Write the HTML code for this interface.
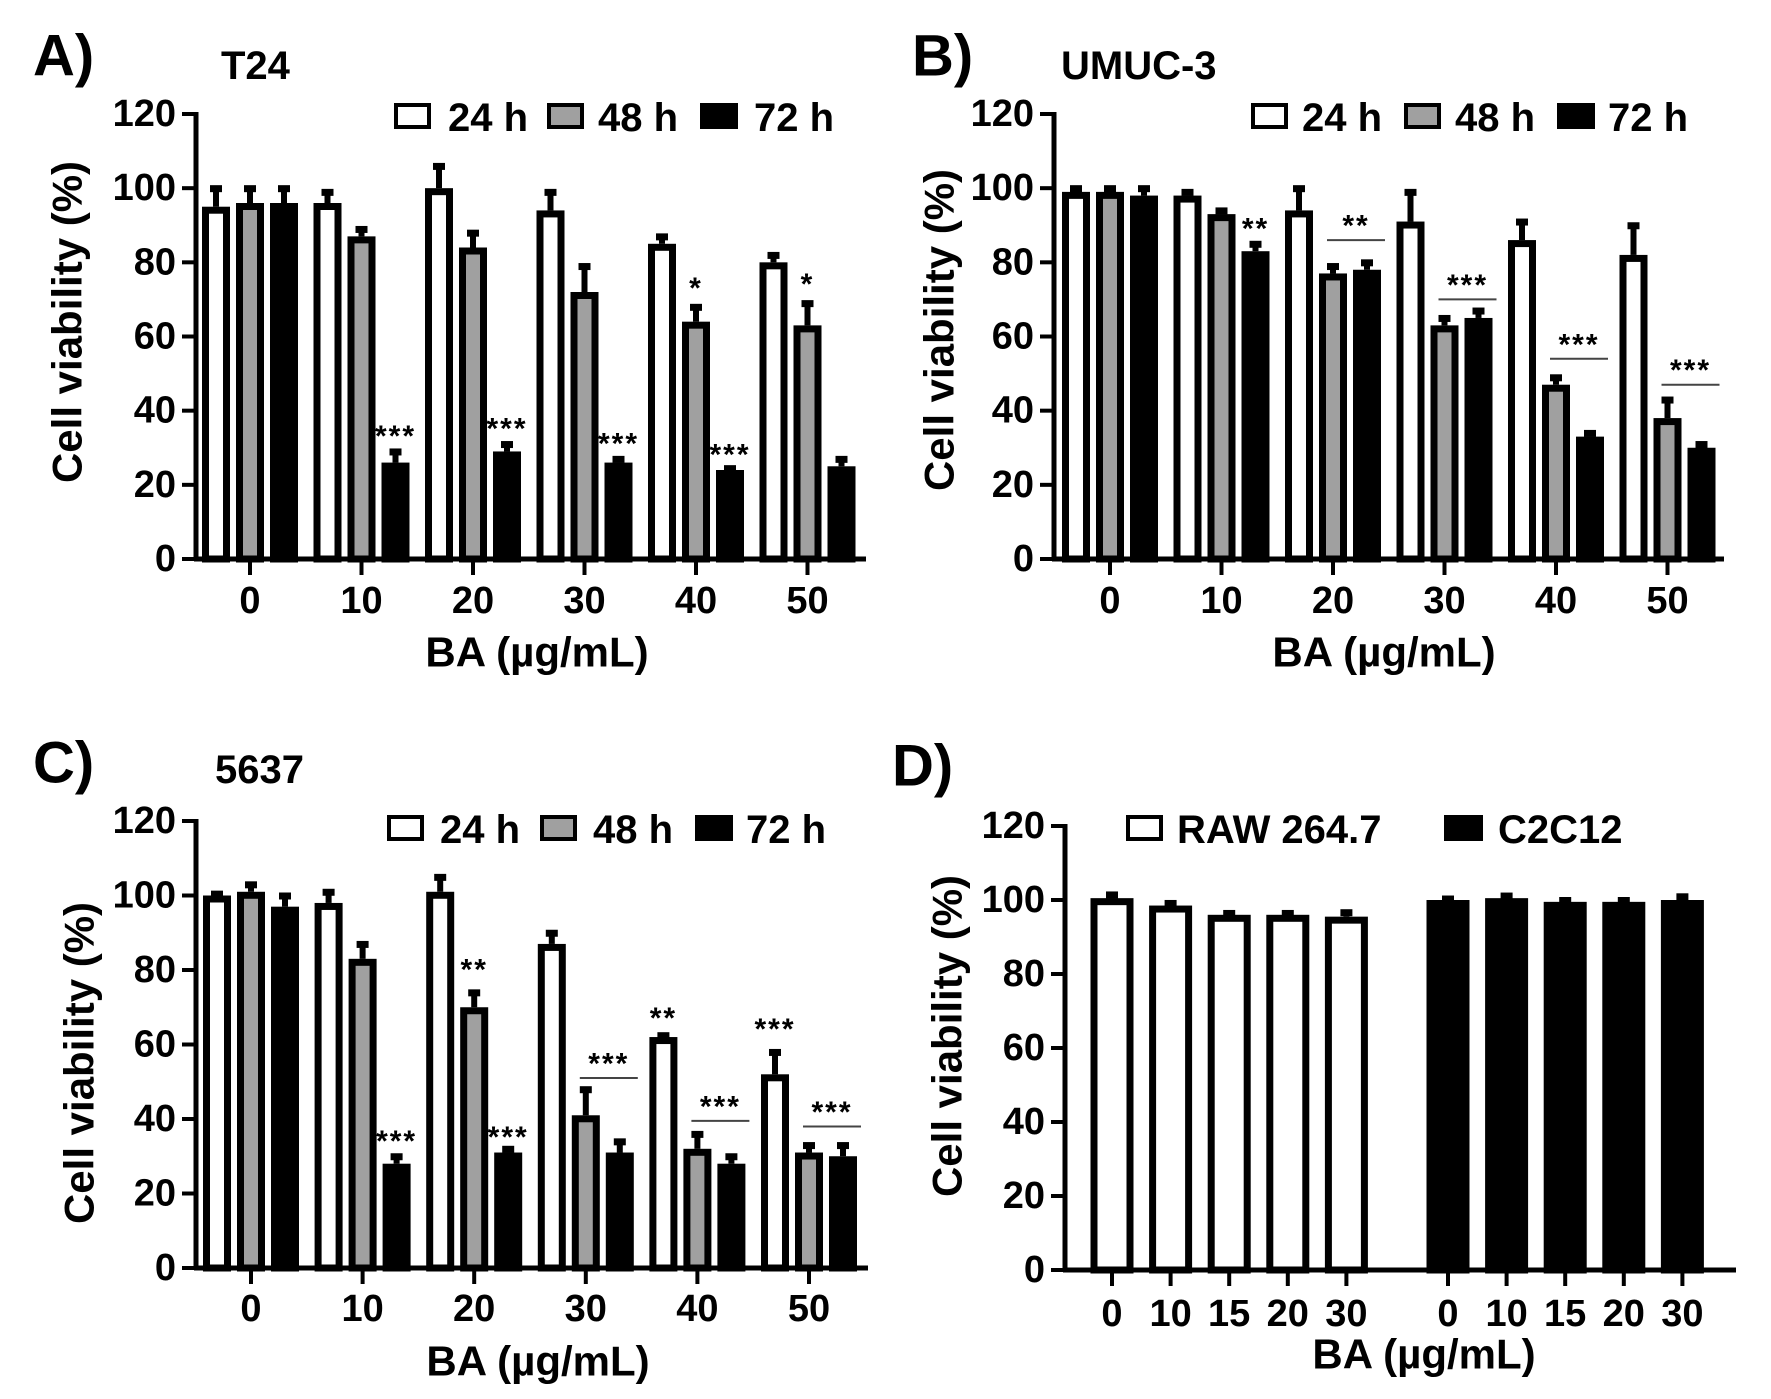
<!DOCTYPE html>
<html><head><meta charset="utf-8">
<style>
html,body{margin:0;padding:0;background:#fff;}
svg{display:block;font-family:"Liberation Sans",Arial,sans-serif;font-weight:bold;}
</style></head>
<body>
<svg id="fig" width="1771" height="1399" viewBox="0 0 1771 1399" xmlns="http://www.w3.org/2000/svg"></svg>
<script>
// ---- data ----
const doseLabels = ["0","10","20","30","40","50"];
const yTicks = [0,20,40,60,80,100,120];
// Panel A: T24
const a24 = [95,96,100,94,85,80];
const a24e = [5,3,6,5,2,2];
const a48 = [96,87,84,72,64,63];
const a48e = [4,2,4,7,4,6];
const a72 = [96,26,29,26,24,25];
const a72e = [4,3,2,1,0.5,2];
// Panel B: UMUC-3
const b24 = [99,98,94,91,86,82];
const b24e = [1,1,6,8,5,8];
const b48 = [99,93,77,63,47,38];
const b48e = [1,1,2,2,2,5];
const b72 = [98,83,78,65,33,30];
const b72e = [2,2,2,2,1,1];
// Panel C: 5637
const c24 = [100,98,101,87,62,52];
const c24e = [0.5,3,4,3,0.5,6];
const c48 = [101,83,70,41,32,31];
const c48e = [2,4,4,7,4,2];
const c72 = [97,28,31,31,28,30];
const c72e = [3,2,1,3,2,3];
// Panel D
const dDoseLabels = ["0","10","15","20","30"];
const dRaw = [100.5,98.5,96,96,95.5];
const dRawE = [1,0.7,0.5,0.5,1.2];
const dC2 = [100,100.5,99.5,99.5,100];
const dC2E = [0.4,0.7,0.5,0.5,1];
// significance marks: [groupIndex, series(0/1/2) or "line", value(center of stars), text]
const aSig = [[1,2,33,"***"],[2,2,35,"***"],[3,2,31,"***"],[4,2,28,"***"],[4,1,73,"*"],[5,1,74,"*"]];
const bSig = [[1,2,89,"**"],[2,"line",86,"**"],[3,"line",70,"***"],[4,"line",54,"***"],[5,"line",47,"***"]];
const cSig = [[1,2,34,"***"],[2,2,35,"***"],[2,1,80,"**"],[4,0,67,"**"],[5,0,64,"***"],[3,"line",51,"***"],[4,"line",39.5,"***"],[5,"line",38,"***"]];

const NS="http://www.w3.org/2000/svg";
const svg=document.getElementById('fig');
function el(tag,attrs,parent){const e=document.createElementNS(NS,tag);for(const k in attrs)e.setAttribute(k,attrs[k]);(parent||svg).appendChild(e);return e;}
function txt(s,x,y,size,anchor,parent){const t=el('text',{x:x,y:y,'font-size':size,'text-anchor':anchor||'middle','dominant-baseline':'central',fill:'#000'},parent);t.textContent=s;return t;}

const fills=["#fff","#a0a0a0","#000"];

function axes(g,P){
  const ys=v=>P.y0-(v/120)*(P.y0-P.y120);
  el('line',{x1:P.ax,y1:P.y120-2,x2:P.ax,y2:P.y0,stroke:'#000','stroke-width':5},g);
  el('line',{x1:P.ax-2,y1:P.y0,x2:P.xEnd,y2:P.y0,stroke:'#000','stroke-width':5},g);
  yTicks.forEach(v=>{
    el('line',{x1:P.ax-14,y1:ys(v),x2:P.ax,y2:ys(v),stroke:'#000','stroke-width':4},g);
    const t=txt(String(v),P.ax-20,ys(v),38,'end',g);
    
    
  });
  return ys;
}

function bar(g,cx,v,e,fill,w,ys){
  const top=ys(v);
  const et=ys(v+e);
  el('line',{x1:cx,y1:top,x2:cx,y2:et,stroke:'#000','stroke-width':6},g);
  el('rect',{x:cx-6,y:et-3,width:12,height:7,fill:'#000'},g);
  const r=el('rect',{x:cx-w/2+3.5,y:top+3.5,width:w-7,height:ys(0)-top-3.5,fill:fill,stroke:'#000','stroke-width':7},g);
  
  
}

function legend(g,items,y){
  items.forEach(it=>{
    const r=el('rect',{x:it.sx+2,y:y-11,width:it.sw-4,height:22,fill:it.fill,stroke:'#000','stroke-width':4},g);
    
    
    const t=txt(it.label,it.tx,y+2,40,'start',g);
    
    
  });
}

function timePanel(P,s24,e24,s48,e48,s72,e72,sig){
  const g=el('g',{});
  
  
  const ys=axes(g,P);
  const xs=i=>P.t0+i*P.stride;
  const series=[[s24,e24],[s48,e48],[s72,e72]];
  doseLabels.forEach((lab,i)=>{
    series.forEach((s,k)=>bar(g,xs(i)+(k-1)*34,s[0][i],s[1][i],fills[k],28,ys));
    el('line',{x1:xs(i),y1:P.y0,x2:xs(i),y2:P.y0+16,stroke:'#000','stroke-width':4},g);
    const t=txt(lab,xs(i),P.tickY,38,'middle',g);
    
    
  });
  sig.forEach(sg=>{
    const i=sg[0];
    if(sg[1]==="line"){
      const ly=ys(sg[2]);
      el('line',{x1:xs(i)-6,y1:ly,x2:xs(i)+52,y2:ly,stroke:'#444','stroke-width':2},g);
      const t=txt(sg[3],xs(i)+23,ly-14,30,'middle',g);
      t.setAttribute('letter-spacing','2');
      
      
    } else {
      const t=txt(sg[3],xs(i)+(sg[1]-1)*34,ys(sg[2]),30,'middle',g);
      t.setAttribute('letter-spacing','2');
      
      
    }
  });
  legend(g,[{sx:P.lx[0],sw:37,tx:P.lx[1],fill:'#fff',label:'24 h'},{sx:P.lx[2],sw:37,tx:P.lx[3],fill:'#a0a0a0',label:'48 h'},{sx:P.lx[4],sw:38,tx:P.lx[5],fill:'#000',label:'72 h'}],P.ly);
  decorate(g,P);
}

function decorate(g,P){
  const yt=txt('Cell viability (%)',0,0,42,'middle',g);
  yt.setAttribute('transform',`translate(${P.ytx},${P.yty}) rotate(-90)`);
  
  
  const xt=txt('BA (µg/mL)',P.xtx,P.xty,42,'middle',g);
  
  
  const pl=txt(P.label,P.plx,P.ply,58,'start',g);
  
  
  if(P.title){
    const ti=txt(P.title,P.tix,P.tiy,40,'start',g);
    
    
  }
}

timePanel({name:'panel-a-t24',ax:196,y0:559,y120:114,xEnd:866,t0:250,stride:111.5,tickY:601,
  lx:[394,448,547,598,700,754],ly:116,ytx:67,yty:322,xtx:537,xty:652,label:'A)',plx:33,ply:56,title:'T24',tix:221,tiy:66},
  a24,a24e,a48,a48e,a72,a72e,aSig);
timePanel({name:'panel-b-umuc3',ax:1054,y0:559,y120:114,xEnd:1724,t0:1110,stride:111.5,tickY:601,
  lx:[1251,1302,1404,1455,1557,1608],ly:116,ytx:939,yty:330,xtx:1384,xty:652,label:'B)',plx:912,ply:56,title:'UMUC-3',tix:1061,tiy:66},
  b24,b24e,b48,b48e,b72,b72e,bSig);
timePanel({name:'panel-c-5637',ax:196,y0:1268,y120:821,xEnd:868,t0:251,stride:111.6,tickY:1309,
  lx:[387,440,540,593,695,746],ly:828,ytx:79,yty:1063,xtx:538,xty:1361,label:'C)',plx:33,ply:763,title:'5637',tix:215,tiy:770},
  c24,c24e,c48,c48e,c72,c72e,cSig);

// Panel D
(function(){
  const P={ax:1065,y0:1270,y120:826,xEnd:1736,ytx:947,yty:1036,xtx:1424,xty:1354,label:'D)',plx:892,ply:766};
  const g=el('g',{});
  
  
  const ys=axes(g,P);
  const groups=[{vals:dRaw,errs:dRawE,fill:'#fff',x0:1112},{vals:dC2,errs:dC2E,fill:'#000',x0:1448}];
  groups.forEach(G=>{
    dDoseLabels.forEach((lab,i)=>{
      const cx=G.x0+i*58.6;
      bar(g,cx,G.vals[i],G.errs[i],G.fill,43,ys);
      el('line',{x1:cx,y1:P.y0,x2:cx,y2:P.y0+16,stroke:'#000','stroke-width':4},g);
      const t=txt(lab,cx,1314,38,'middle',g);
      
      
    });
  });
  legend(g,[{sx:1126,sw:37,tx:1177,fill:'#fff',label:'RAW 264.7'},{sx:1444,sw:39,tx:1498,fill:'#000',label:'C2C12'}],828);
  decorate(g,P);
})();
</script>
</body></html>
